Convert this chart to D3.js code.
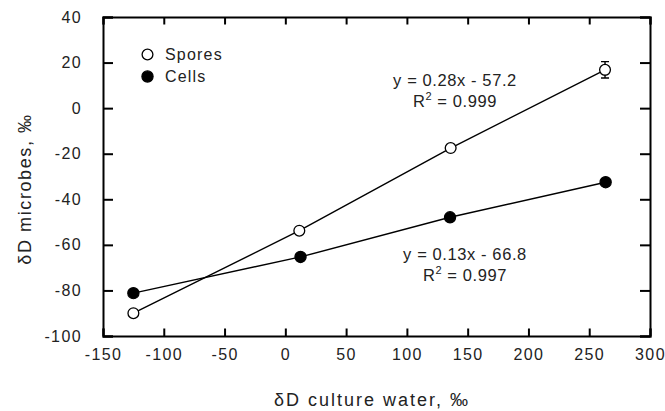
<!DOCTYPE html>
<html>
<head>
<meta charset="utf-8">
<script src="https://cdn.jsdelivr.net/npm/d3@7/dist/d3.min.js"></script>
<style>
  body { margin: 0; background: #fff; }
  text { font-family: "Liberation Sans", Arial, Helvetica, sans-serif; fill: #222; }
</style>
</head>
<body>
<div></div>
<script>
var width = 665;
var height = 411;

// data
var cultureWater = [-125, 11.5, 136, 263];
var sporesD = [-90, -53.8, -17.5, 16.8];
var sporesErr = [0, 0, 0, 3.6];
var cellsWater = [-125, 12.5, 135.5, 263.5];
var cellsD = [-81.2, -65.3, -47.9, -32.5];

var xTicks = [-150, -100, -50, 0, 50, 100, 150, 200, 250, 300];
var yTicks = [-100, -80, -60, -40, -20, 0, 20, 40];

var margin = {left: 103, right: 15, top: 17, bottom: 75};

var x = d3.scaleLinear().domain([-150, 300]).range([margin.left, width - margin.right]);
var y = d3.scaleLinear().domain([-100, 40]).range([height - margin.bottom, margin.top]);

// plain hyphen for negatives, like the original
var plain = function(d) { return String(d); };

var svg = d3.select("div")
	.append("svg")
	.attr("width", width)
	.attr("height", height);

// axes with inward ticks, labels outside
svg.append("g")
	.attr("transform", "translate(0," + y(-100) + ")")
	.call(d3.axisBottom(x).tickValues(xTicks).tickSize(-7.5).tickPadding(13).tickFormat(plain))
	.call(styleAxis);

svg.append("g")
	.attr("transform", "translate(0," + y(40) + ")")
	.call(d3.axisTop(x).tickValues(xTicks).tickSize(-7.5).tickFormat(""))
	.call(styleAxis);

svg.append("g")
	.attr("transform", "translate(" + x(-150) + ",0)")
	.call(d3.axisLeft(y).tickValues(yTicks).tickSize(-10).tickPadding(21).tickFormat(plain))
	.call(styleAxis);

svg.append("g")
	.attr("transform", "translate(" + x(300) + ",0)")
	.call(d3.axisRight(y).tickValues(yTicks).tickSize(-10).tickFormat(""))
	.call(styleAxis);

function styleAxis(g) {
	g.select(".domain").attr("stroke", "#000").attr("stroke-width", 2);
	g.selectAll(".tick line").attr("stroke", "#000").attr("stroke-width", 2);
	g.selectAll(".tick text")
		.style("font-family", '"Liberation Sans", Arial, sans-serif')
		.style("font-size", "16px")
		.style("letter-spacing", "1.4px")
		.attr("fill", "#222");
}

// connecting lines
var line = d3.line().x(function(d) { return x(d[0]); }).y(function(d) { return y(d[1]); });

svg.append("path")
	.datum(d3.zip(cultureWater, sporesD))
	.attr("d", line)
	.attr("fill", "none")
	.attr("stroke", "#000")
	.attr("stroke-width", 1.4);

svg.append("path")
	.datum(d3.zip(cellsWater, cellsD))
	.attr("d", line)
	.attr("fill", "none")
	.attr("stroke", "#000")
	.attr("stroke-width", 1.4);

// error bars
svg.selectAll(".err")
	.data(d3.zip(cultureWater, sporesD, sporesErr).filter(function(d) { return d[2] > 0; }))
	.enter().append("path")
	.attr("class", "err")
	.attr("d", function(d) {
		var cx = x(d[0]), hi = y(d[1] + d[2]), lo = y(d[1] - d[2]);
		return "M" + (cx - 4) + "," + hi + "H" + (cx + 4) + "M" + cx + "," + hi + "V" + lo +
			"M" + (cx - 4) + "," + lo + "H" + (cx + 4);
	})
	.attr("stroke", "#000")
	.attr("stroke-width", 1.4)
	.attr("fill", "none");

// points
svg.selectAll(".cell")
	.data(d3.zip(cellsWater, cellsD))
	.enter().append("circle")
	.attr("class", "cell")
	.attr("cx", function(d) { return x(d[0]); })
	.attr("cy", function(d) { return y(d[1]); })
	.attr("r", 5.6)
	.attr("fill", "#000")
	.attr("stroke", "#000")
	.attr("stroke-width", 1.2);

svg.selectAll(".spore")
	.data(d3.zip(cultureWater, sporesD))
	.enter().append("circle")
	.attr("class", "spore")
	.attr("cx", function(d) { return x(d[0]); })
	.attr("cy", function(d) { return y(d[1]); })
	.attr("r", 5.4)
	.attr("fill", "#fff")
	.attr("stroke", "#000")
	.attr("stroke-width", 1.3);

// legend
svg.append("circle").attr("cx", 147.5).attr("cy", 54.5).attr("r", 5.4)
	.attr("fill", "#fff").attr("stroke", "#000").attr("stroke-width", 1.3);
svg.append("circle").attr("cx", 147.5).attr("cy", 76.5).attr("r", 5.6)
	.attr("fill", "#000").attr("stroke", "#000").attr("stroke-width", 1.2);
svg.append("text").attr("x", 165).attr("y", 60).style("font-size", "16px")
	.style("letter-spacing", "1.2px").text("Spores");
svg.append("text").attr("x", 165).attr("y", 82).style("font-size", "16px")
	.style("letter-spacing", "1.2px").text("Cells");

// regression equations
function equation(cx, yb, eq, r2) {
	svg.append("text").attr("x", cx).attr("y", yb).attr("text-anchor", "middle")
		.style("font-size", "16.5px").style("letter-spacing", "0.6px").text(eq);
	var t = svg.append("text").attr("x", cx).attr("y", yb + 20.5).attr("text-anchor", "middle")
		.style("font-size", "16.5px").style("letter-spacing", "0.6px");
	t.append("tspan").text("R");
	t.append("tspan").attr("dy", -7).style("font-size", "11px").text("2");
	t.append("tspan").attr("dy", 7).text(" = " + r2);
}
equation(455, 86, "y = 0.28x - 57.2", "0.999");
equation(465, 260, "y = 0.13x - 66.8", "0.997");

// axis titles
svg.append("text")
	.attr("x", 372)
	.attr("y", 406)
	.attr("text-anchor", "middle")
	.style("font-size", "18px")
	.style("letter-spacing", "2px")
	.text("δD culture water, ‰");

svg.append("text")
	.attr("transform", "translate(31,189) rotate(-90)")
	.attr("text-anchor", "middle")
	.style("font-size", "18px")
	.style("letter-spacing", "1.6px")
	.text("δD microbes, ‰");
</script>
</body>
</html>
